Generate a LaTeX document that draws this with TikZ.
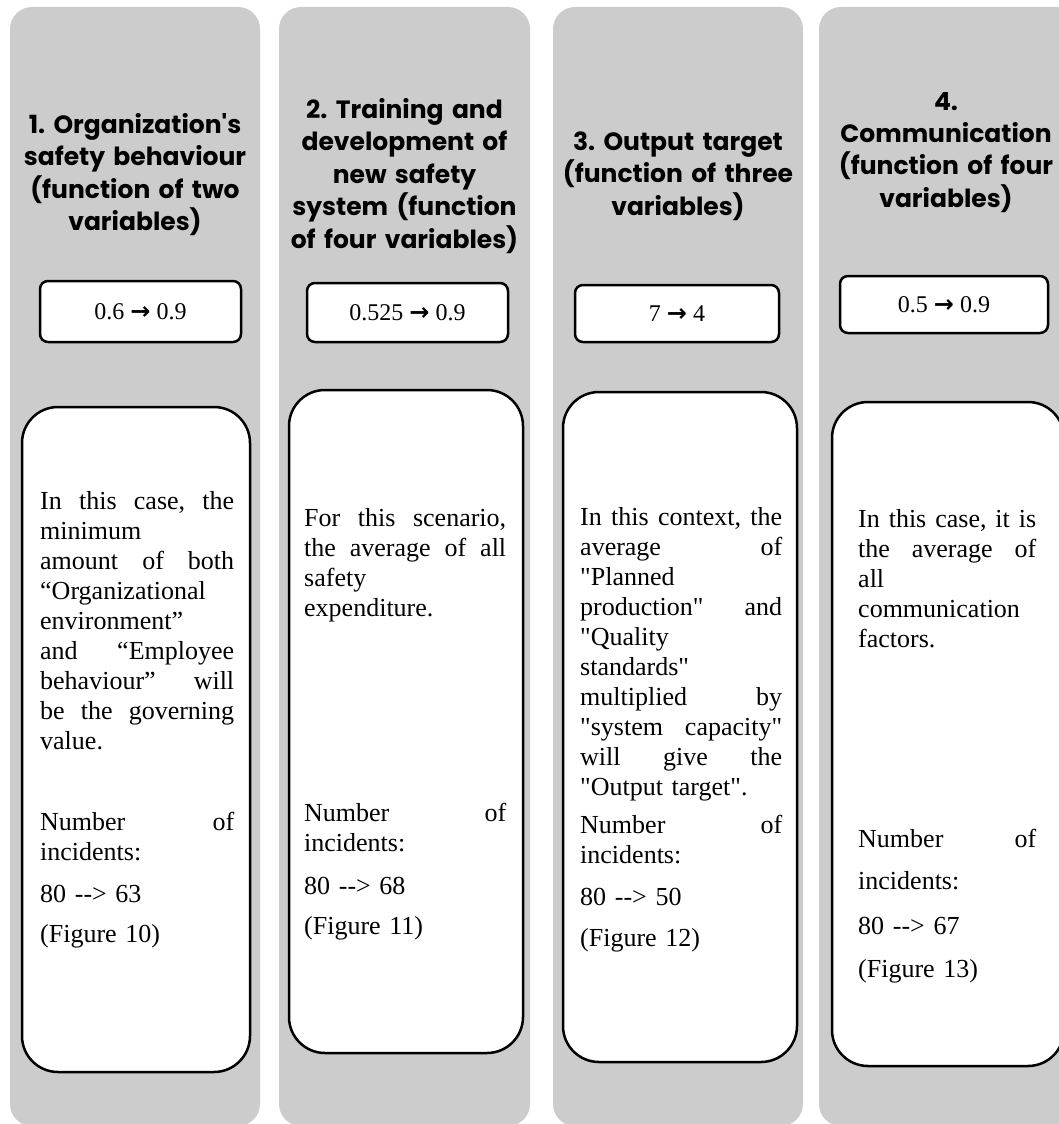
\documentclass[tikz,border=0pt]{standalone}
\usepackage{fontspec}
\newfontfamily\headfont{Poppins}
\newfontfamily\bodyfont{Liberation Serif}
\newfontfamily\arrowfont{DejaVu Sans}
\definecolor{colgray}{RGB}{204,204,204}
\newcommand\jline[1]{{\spaceskip=0.25em plus 1fill\relax #1}}
\newcommand\toarrow{{\arrowfont\bfseries →}}
\frenchspacing
\tikzset{
  colbox/.style={fill=colgray, rounded corners=22pt, inner sep=0pt},
  headtext/.style={anchor=base, align=center, text width=255pt, inner sep=0pt,
    font=\headfont\bfseries\fontsize{25}{32.5}\selectfont},
  valbox/.style={draw, fill=white, line width=2.5pt, rounded corners=8pt, inner sep=0pt,
    font=\bodyfont\fontsize{24}{28}\selectfont},
  textbox/.style={draw, fill=white, line width=2.5pt, rounded corners=36pt, inner sep=0pt},
  bodytext/.style={anchor=base west, align=left, inner sep=0pt, text width=#1,
    font=\bodyfont\fontsize{26}{30}\selectfont}
}
\begin{document}
\begin{tikzpicture}[x=1pt,y=-1pt]
\useasboundingbox (0,0) rectangle (1058,1124);

% Column 1
\node [colbox,
    minimum width=250pt,
    minimum height=1119pt] (col1) at (135,566.5){};
\node [headtext] (head1) at (135,133)
  {1. Organization's\\safety behaviour\\(function of two\\variables)};
\node [valbox,
    minimum width=201pt,
    minimum height=61pt] (val1) at (140.5,311.5){0.6 \toarrow{} 0.9};
\node [textbox,
    minimum width=228pt,
    minimum height=665pt] (box1) at (136,739.5){};
\node [bodytext=194pt] (desc1) at (40,509)
  {\jline{In this case, the}\\
   minimum\\
   \jline{amount of both}\\
   “Organizational\\
   environment”\\
   \jline{and “Employee}\\
   \jline{behaviour” will}\\
   \jline{be the governing}\\
   value.};
\node [bodytext=194pt] (inc1) at (40,830)
  {\jline{Number of}\\
   incidents:\\[12pt]
   80 --> 63\\[10pt]
   (Figure 10)};

% Column 2
\node [colbox,
    minimum width=251pt,
    minimum height=1119pt] (col2) at (404.5,566.5){};
\node [headtext] (head2) at (404.5,118)
  {2. Training and\\development of\\new safety\\system (function\\of four variables)};
\node [valbox,
    minimum width=201pt,
    minimum height=59pt] (val2) at (407.5,312.5){0.525 \toarrow{} 0.9};
\node [textbox,
    minimum width=234pt,
    minimum height=663pt] (box2) at (406,721.5){};
\node [bodytext=202pt] (desc2) at (304,526)
  {\jline{For this scenario,}\\
   \jline{the average of all}\\
   safety\\
   expenditure.};
\node [bodytext=202pt] (inc2) at (304,821)
  {\jline{Number of}\\
   incidents:\\[13pt]
   80 --> 68\\[10pt]
   (Figure 11)};

% Column 3
\node [colbox,
    minimum width=250pt,
    minimum height=1119pt] (col3) at (678,566.5){};
\node [headtext] (head3) at (678,150)
  {3. Output target\\(function of three\\variables)};
\node [valbox,
    minimum width=204pt,
    minimum height=57pt] (val3) at (677,313.5){7 \toarrow{} 4};
\node [textbox,
    minimum width=234pt,
    minimum height=670pt] (box3) at (680,727){};
\node [bodytext=202pt] (desc3) at (580,525)
  {\jline{In this context, the}\\
   \jline{average of}\\
   "Planned\\
   \jline{production" and}\\
   "Quality\\
   standards"\\
   \jline{multiplied by}\\
   \jline{"system capacity"}\\
   \jline{will give the}\\
   "Output target".};
\node [bodytext=202pt] (inc3) at (580,833)
  {\jline{Number of}\\
   incidents:\\[12pt]
   80 --> 50\\[11pt]
   (Figure 12)};

% Column 4
\node [colbox,
    minimum width=261pt,
    minimum height=1119pt] (col4) at (949.5,566.5){};
\node [headtext] (head4) at (946,110)
  {4.\\Communication\\(function of four\\variables)};
\node [valbox,
    minimum width=208pt,
    minimum height=57pt] (val4) at (944,304.5){0.5 \toarrow{} 0.9};
\node [textbox,
    minimum width=232pt,
    minimum height=664pt] (box4) at (948,734){};
\node [bodytext=178pt] (desc4) at (858,527)
  {\jline{In this case, it is}\\
   \jline{the average of}\\
   all\\
   communication\\
   factors.};
\node [bodytext=178pt] (inc4) at (858,847)
  {\jline{Number of}\\[12pt]
   incidents:\\[15pt]
   80 --> 67\\[13pt]
   (Figure 13)};

\end{tikzpicture}
\end{document}
